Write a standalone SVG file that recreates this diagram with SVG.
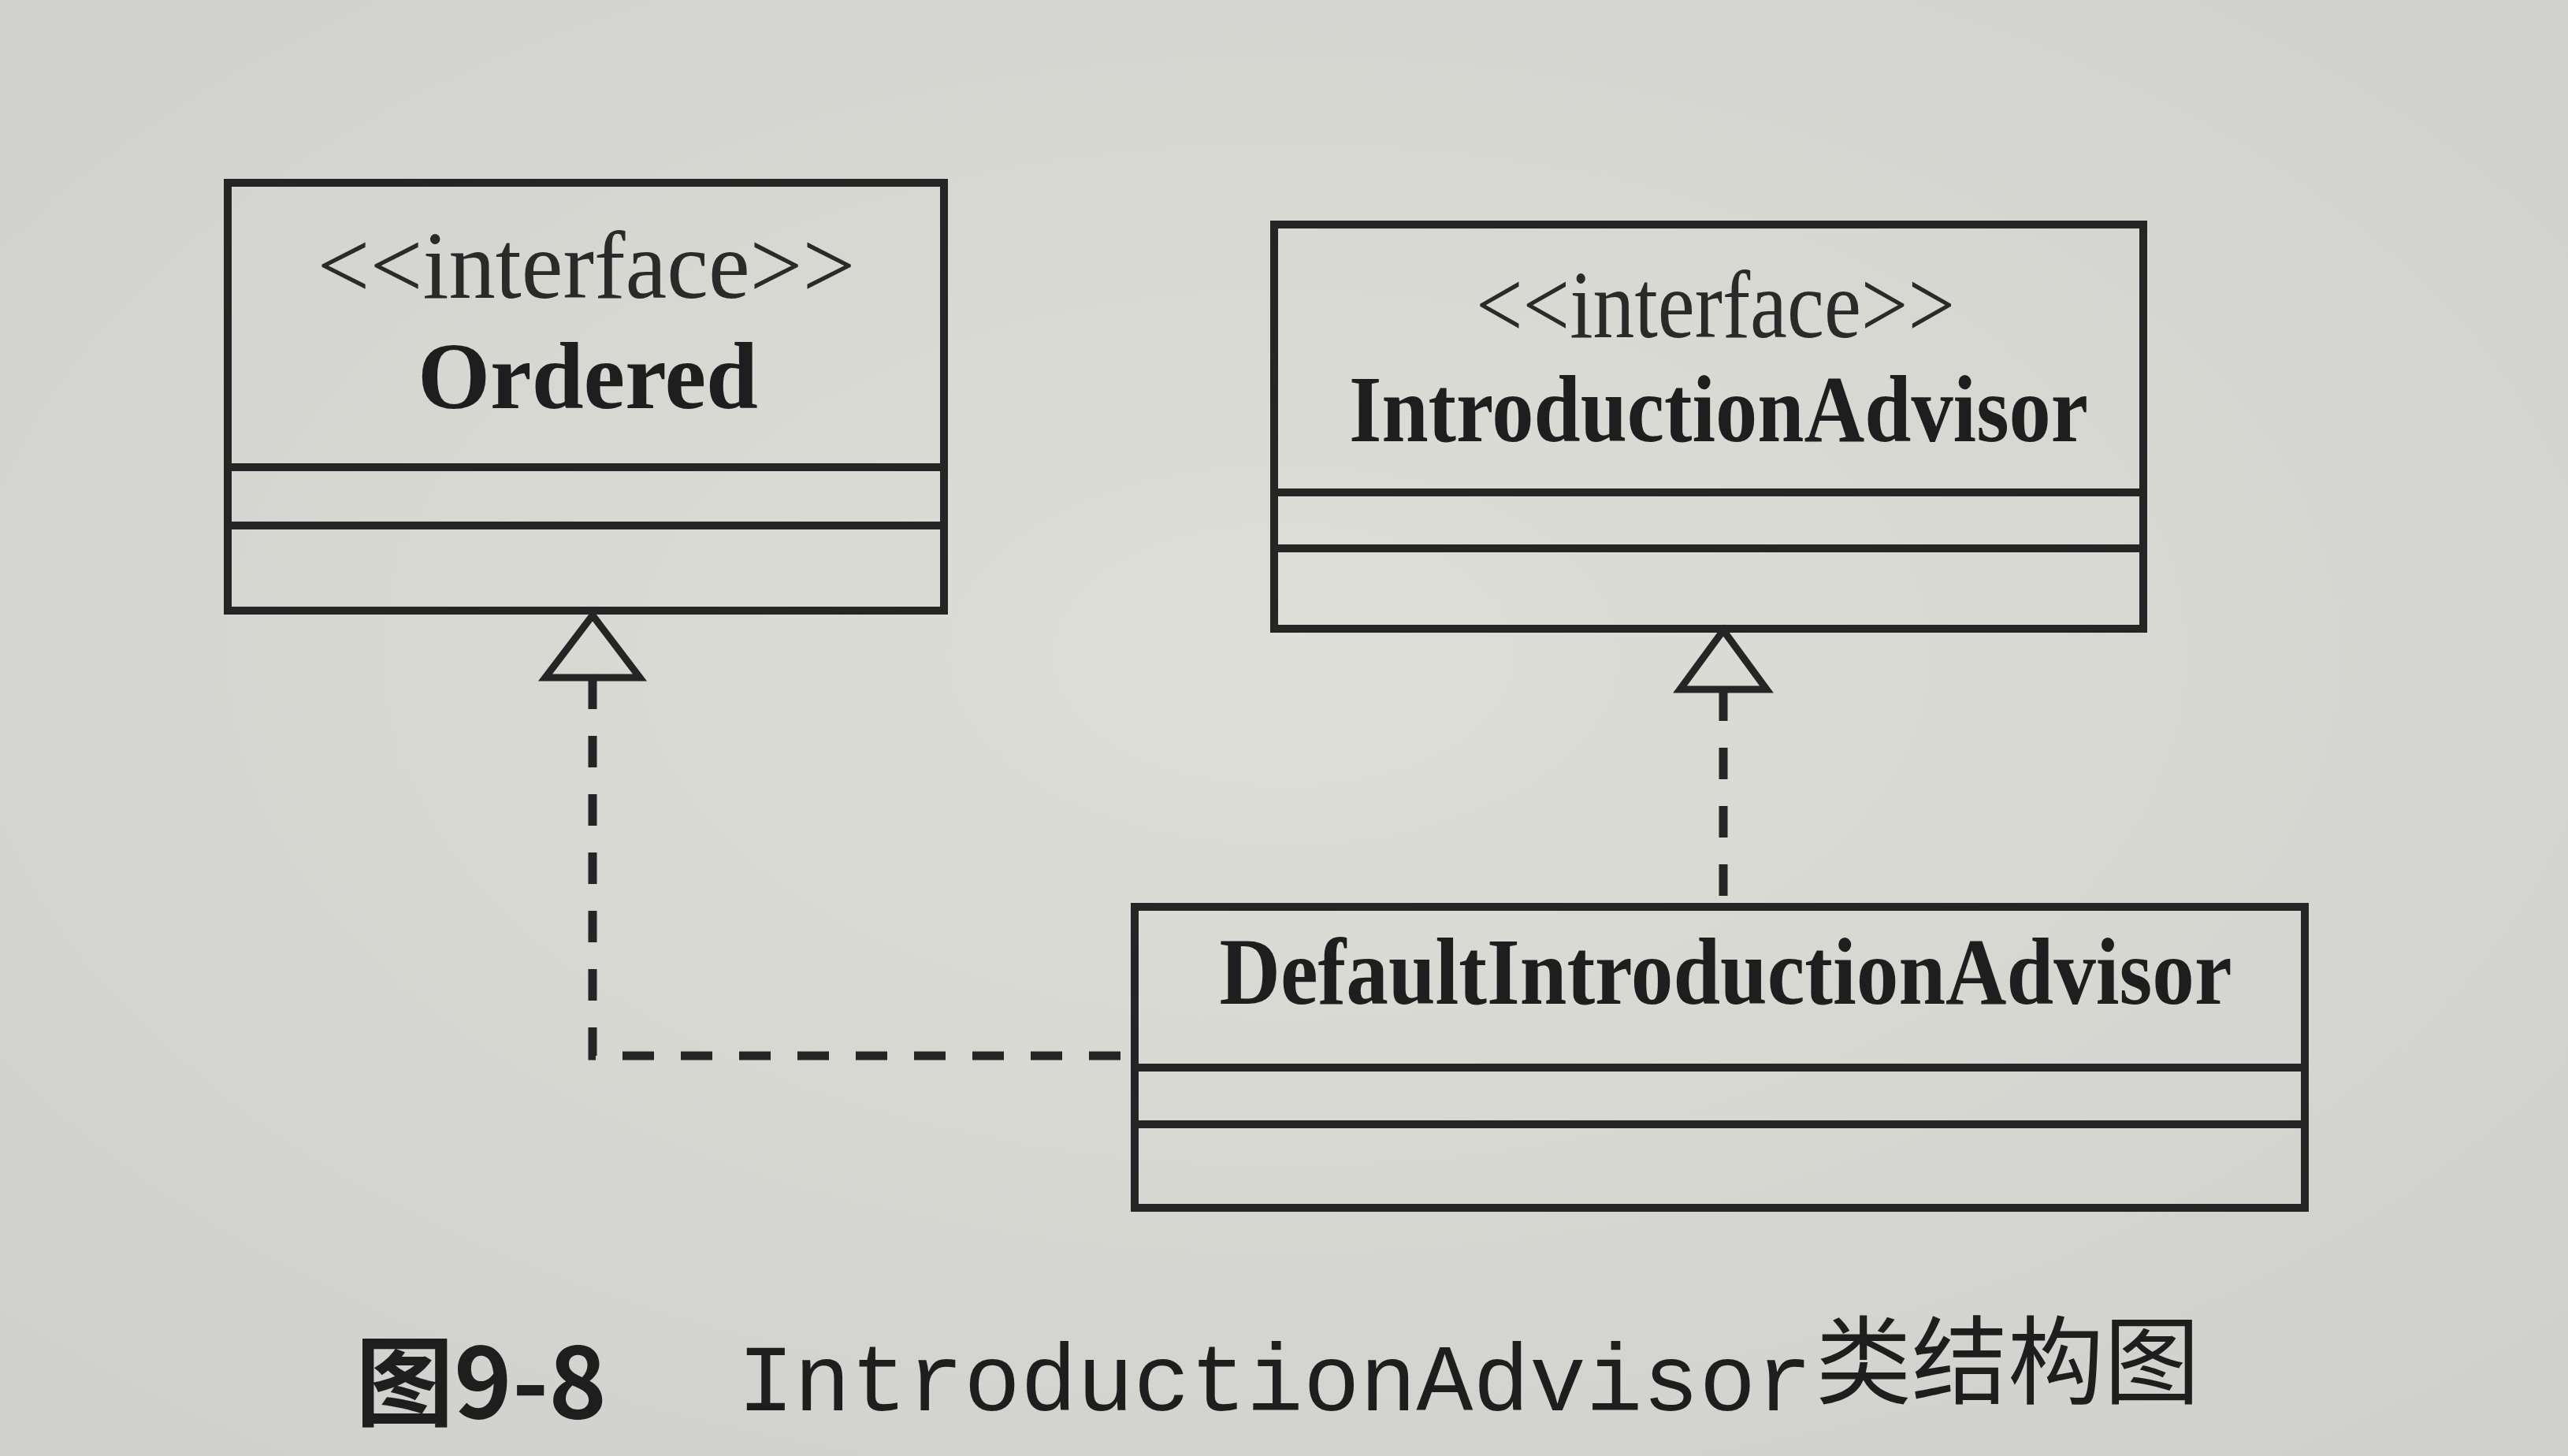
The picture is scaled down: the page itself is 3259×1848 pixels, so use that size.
<svg xmlns="http://www.w3.org/2000/svg" width="3259" height="1848" viewBox="0 0 3259 1848">
  <defs>
    <radialGradient id="bg" cx="50%" cy="45%" r="75%">
      <stop offset="0" stop-color="#deded9"/>
      <stop offset="1" stop-color="#cfcfcb"/>
    </radialGradient>
  </defs>
  <style>
    .box { fill: none; stroke: #252525; stroke-width: 10; }
    .div { stroke: #252525; stroke-width: 10; }
    .stereo { font-family: "Liberation Serif", "Times New Roman", serif; font-size: 122px; fill: #2a2a2a; text-anchor: middle; }
    .name { font-family: "Liberation Serif", "Times New Roman", serif; font-size: 120px; font-weight: bold; fill: #1e1e1e; text-anchor: middle; }
    .tri { fill: none; stroke: #252525; stroke-width: 9; stroke-linejoin: miter; }
    .dash { fill: none; stroke: #252525; stroke-width: 11; stroke-dasharray: 40 34; }
    .capsans { font-family: "Noto Sans CJK SC", "Liberation Sans", sans-serif; font-size: 124px; font-weight: bold; fill: #1e1e1e; }
    .capmono { font-family: "Liberation Mono", "Noto Sans CJK SC", monospace; font-size: 120px; fill: #1e1e1e; }
    .capcjk { font-family: "Noto Sans CJK SC", sans-serif; font-size: 122px; fill: #1e1e1e; }
  </style>
  <rect x="0" y="0" width="3259" height="1848" fill="url(#bg)"/>

  <g id="ordered">
    <rect class="box" x="289" y="232" width="909" height="543"/>
    <line class="div" x1="289" y1="593" x2="1198" y2="593"/>
    <line class="div" x1="289" y1="667" x2="1198" y2="667"/>
    <text class="stereo" x="744" y="378" textLength="683" lengthAdjust="spacingAndGlyphs">&lt;&lt;interface&gt;&gt;</text>
    <text class="name" x="746" y="518" textLength="432" lengthAdjust="spacingAndGlyphs">Ordered</text>
  </g>

  <g id="introductionAdvisor">
    <rect class="box" x="1617" y="285" width="1103" height="513"/>
    <line class="div" x1="1617" y1="625" x2="2720" y2="625"/>
    <line class="div" x1="1617" y1="696" x2="2720" y2="696"/>
    <text class="stereo" x="2177" y="428" textLength="608" lengthAdjust="spacingAndGlyphs">&lt;&lt;interface&gt;&gt;</text>
    <text class="name" x="2181" y="560" textLength="938" lengthAdjust="spacingAndGlyphs">IntroductionAdvisor</text>
  </g>

  <g id="defaultIntroductionAdvisor">
    <rect class="box" x="1440" y="1151" width="1485" height="382"/>
    <line class="div" x1="1440" y1="1355" x2="2925" y2="1355"/>
    <line class="div" x1="1440" y1="1427" x2="2925" y2="1427"/>
    <text class="name" x="2190" y="1274" textLength="1285" lengthAdjust="spacingAndGlyphs">DefaultIntroductionAdvisor</text>
  </g>

  <g id="connectors">
    <polygon class="tri" points="752,781 812,860 692,860"/>
    <path class="dash" d="M752,860 V1340 H1440"/>
    <polygon class="tri" points="2187,800 2242,875 2132,875"/>
    <path class="dash" d="M2187,875 V1151"/>
  </g>

  <g id="caption">
    <text class="capsans" x="451" y="1800" textLength="319" lengthAdjust="spacingAndGlyphs">图9-8</text>
    <text class="capmono" x="936" y="1790" textLength="1364" lengthAdjust="spacingAndGlyphs">IntroductionAdvisor</text>
    <text class="capcjk" x="2304" y="1772" textLength="488" lengthAdjust="spacingAndGlyphs">类结构图</text>
  </g>
</svg>
